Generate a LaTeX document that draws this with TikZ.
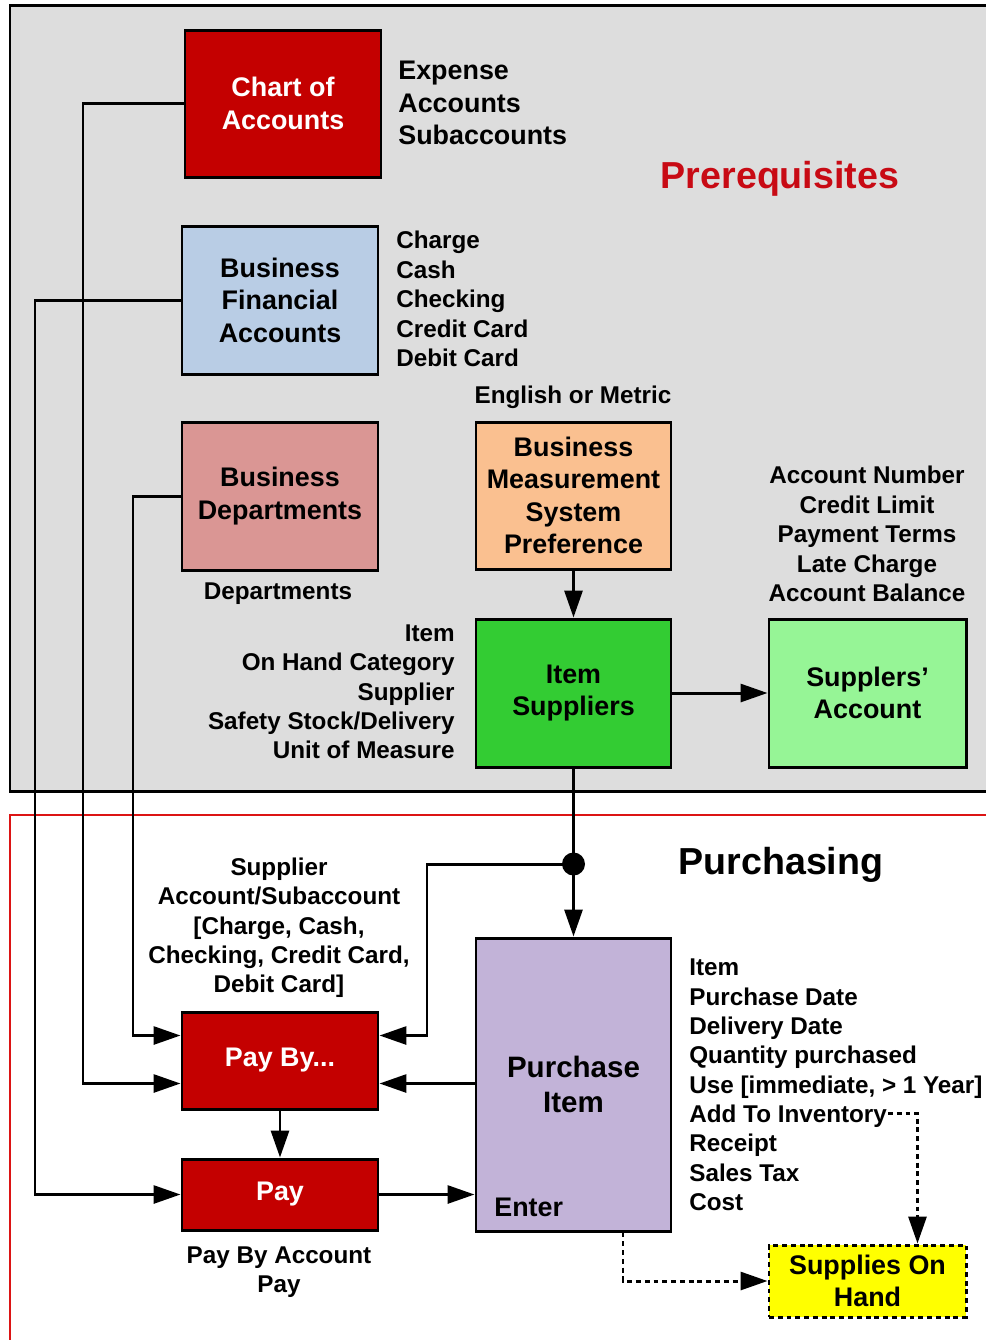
\documentclass[tikz,border=0pt]{standalone}
\usepackage{fontspec}
\setmainfont{Liberation Sans}
\usetikzlibrary{arrows.meta,calc}
\definecolor{bggray}{RGB}{221,221,221}
\definecolor{cred}{RGB}{196,0,0}
\definecolor{cblue}{RGB}{185,205,229}
\definecolor{cpink}{RGB}{218,150,148}
\definecolor{corange}{RGB}{250,192,144}
\definecolor{cgreen}{RGB}{51,204,51}
\definecolor{clgreen}{RGB}{150,245,150}
\definecolor{clav}{RGB}{194,179,216}
\definecolor{cyellow}{RGB}{255,255,0}
\definecolor{ctitle}{RGB}{200,10,20}
\definecolor{cframe}{RGB}{220,20,20}
\newcommand\uu{0.02cm}
\newcommand\boxfont{\fontsize{15.3}{18.5}\selectfont\bfseries}
\newcommand\smallfont{\fontsize{13.8}{16.7}\selectfont\bfseries}
\newcommand\titlefont{\fontsize{21.4}{24}\selectfont\bfseries}
\tikzset{
  box/.style={draw=black, line width=1.7pt, align=center, inner sep=0pt, font=\boxfont},
  lst/.style={inner sep=0pt, font=\smallfont},
  ln/.style={line width=1.7pt},
  arr/.style={line width=1.7pt, -{Triangle[length=0.54cm,width=0.36cm]}},
  darr/.style={arr, dash pattern=on 2.8pt off 2.2pt},
}
\begin{document}
\begin{tikzpicture}[x=0.02cm, y=-0.02cm]
\useasboundingbox (0,0) rectangle (986,1340);
% regions
\filldraw[fill=bggray, draw=black, line width=1.7pt] (10,5) rectangle (1010,791);
\draw[draw=cframe, line width=1.2pt] (10,815) rectangle (1010,1360);
% boxes
\node[box, fill=cred, text=white, minimum width=196*\uu, minimum height=147*\uu] (coa) at (283,103.5) {Chart of\\Accounts};
\node[box, fill=cblue, minimum width=196*\uu, minimum height=148*\uu] (bfa) at (280,300) {Business\\Financial\\Accounts};
\node[box, fill=cpink, minimum width=196*\uu, minimum height=148*\uu] (bd) at (280,496) {Business\\Departments};
\node[box, fill=corange, minimum width=195*\uu, minimum height=147*\uu] (bmsp) at (573.5,495.5) {Business\\Measurement\\System\\Preference};
\node[box, fill=cgreen, minimum width=195*\uu, minimum height=148*\uu] (is) at (573.5,693) {Item\\Suppliers};
\node[box, fill=clgreen, minimum width=197*\uu, minimum height=148*\uu] (sa) at (867.5,693) {Supplers’\\Account};
\node[box, fill=clav, minimum width=195*\uu, minimum height=293*\uu, font=\fontsize{16.8}{20}\selectfont\bfseries] (pi) at (573.5,1084.5) {Purchase\\Item};
\node[box, fill=cred, text=white, minimum width=196*\uu, minimum height=97*\uu] (payby) at (280,1060.5) {Pay By...};
\node[box, fill=cred, text=white, minimum width=196*\uu, minimum height=71*\uu] (pay) at (280,1194.5) {Pay};
\node[box, fill=cyellow, minimum width=197*\uu, minimum height=72*\uu, dash pattern=on 2.8pt off 2.2pt] (soh) at (867.5,1281) {Supplies On\\Hand};
% labels
\node[lst, font=\boxfont, align=left, anchor=west] (lexp) at (398,103) {Expense\\Accounts\\Subaccounts};
\node[font=\titlefont, text=ctitle, inner sep=0pt] (tpre) at (780,179) {Prerequisites};
\node[lst, align=left, anchor=west] (lchg) at (396,299) {Charge\\Cash\\Checking\\Credit Card\\Debit Card};
\node[lst] (leng) at (573,397) {English or Metric};
\node[lst, align=center] (lacc) at (867,534) {Account Number\\Credit Limit\\Payment Terms\\Late Charge\\Account Balance};
\node[lst] (ldep) at (278,594) {Departments};
\node[lst, align=right, anchor=east] (litem) at (455,692) {Item\\On Hand Category\\Supplier\\Safety Stock/Delivery\\Unit of Measure};
\node[font=\titlefont, inner sep=0pt] (tpur) at (781,865) {Purchasing};
\node[lst, align=center] (lsup) at (279,928) {Supplier\\Account/Subaccount\\{[}Charge, Cash,\\Checking, Credit Card,\\Debit Card{]}};
\node[lst, align=left, anchor=west] (lpi) at (689,1085) {Item\\Purchase Date\\Delivery Date\\Quantity purchased\\Use {[}immediate, > 1 Year{]}\\Add To Inventory\\Receipt\\Sales Tax\\Cost};
\node[lst, font=\boxfont, anchor=west] (lent) at (494,1207) {Enter};
\node[lst, align=center] (lpay) at (279,1272) {Pay By Account\\Pay};
% helper coordinates
\coordinate (busA) at (35,0);
\coordinate (busB) at (83,0);
\coordinate (busC) at (133,0);
\coordinate (turn) at (427,0);
\coordinate (pbL1) at ($(payby.north west)!0.25!(payby.south west)$);
\coordinate (pbL2) at ($(payby.north west)!0.73!(payby.south west)$);
\coordinate (pbR1) at ($(payby.north east)!0.25!(payby.south east)$);
\coordinate (piD) at ($(pi.south west)!0.75!(pi.south east)$);
\coordinate (sohN) at ($(soh.north)!0.5!(soh.north east)$);
\coordinate (atiend) at (888,1113);
\node[circle, fill=black, inner sep=0pt, minimum size=23*\uu] (dot) at (573.5,864) {};
% connectors
\draw[arr] (coa.west) -- (coa.west -| busB) -- (pbL2 -| busB) -- (pbL2);
\draw[arr] (bfa.west) -- (bfa.west -| busA) -- (pay.west -| busA) -- (pay.west);
\draw[arr] (bd.west) -- (bd.west -| busC) -- (pbL1 -| busC) -- (pbL1);
\draw[arr] (bmsp.south) -- (is.north);
\draw[arr] (is.east) -- (sa.west);
\draw[ln] (is.south) -- (dot.center);
\draw[arr] (dot.center) -- (pi.north);
\draw[arr] (dot.center) -- (dot.center -| turn) -- (pbR1 -| turn) -- (pbR1);
\draw[arr] (pi.west |- pbL2) -- (payby.east |- pbL2);
\draw[arr] (payby.south) -- (pay.north);
\draw[arr] (pay.east) -- (pay.east -| pi.west);
\draw[darr] (piD) |- (soh.west);
\draw[darr] (atiend) -| (sohN);
\end{tikzpicture}
\end{document}
